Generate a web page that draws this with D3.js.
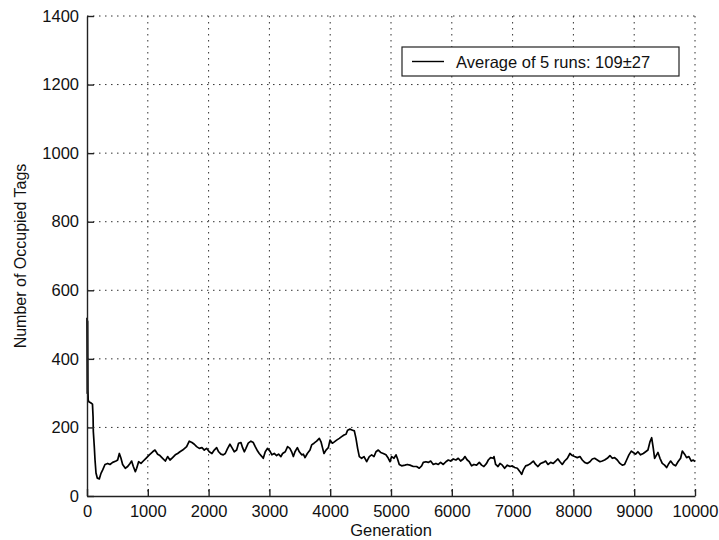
<!DOCTYPE html>
<html>
<head>
<meta charset="utf-8">
<script src="https://cdn.jsdelivr.net/npm/d3@7"></script>
<style>
    html, body { margin: 0; padding: 0; background: #fff; }
    .container { width: 719px; height: 540px; }
    text { font-family: "Liberation Sans", Arial, sans-serif; fill: #111; }
</style>
</head>
<body>
<div class="container"></div>
<script>
// values
const generations = [
    0, 5, 10, 15, 20, 30, 60, 90, 100, 104, 120, 132, 148, 170, 203, 230, 258, 296, 340, 378,
    422, 477, 504, 532, 559, 586, 630, 669, 707, 734, 762, 795, 817, 849, 888, 926, 970, 1025, 1080, 1118,
    1162, 1200, 1244, 1288, 1326, 1365, 1408, 1452, 1491, 1529, 1573, 1606, 1639, 1682, 1726, 1765, 1803, 1847, 1891, 1929,
    1967, 2011, 2055, 2093, 2132, 2165, 2203, 2241, 2274, 2313, 2351, 2384, 2422, 2461, 2493, 2532, 2559, 2587, 2614, 2652,
    2696, 2735, 2767, 2806, 2833, 2877, 2899, 2932, 2970, 3009, 3041, 3080, 3118, 3151, 3189, 3217, 3261, 3299, 3337, 3366,
    3394, 3421, 3460, 3492, 3531, 3558, 3586, 3624, 3668, 3695, 3734, 3777, 3821, 3849, 3876, 3898, 3931, 3969, 3997, 4035,
    4068, 4106, 4150, 4188, 4227, 4260, 4287, 4325, 4369, 4397, 4424, 4451, 4479, 4517, 4556, 4600, 4643, 4682, 4720, 4753,
    4791, 4830, 4873, 4917, 4956, 4983, 5010, 5049, 5082, 5104, 5136, 5175, 5230, 5268, 5312, 5367, 5421, 5465, 5504, 5531,
    5575, 5613, 5652, 5695, 5739, 5778, 5816, 5860, 5903, 5942, 5980, 6024, 6068, 6106, 6145, 6189, 6216, 6254, 6287, 6326,
    6364, 6408, 6452, 6490, 6528, 6572, 6600, 6638, 6682, 6694, 6721, 6760, 6793, 6831, 6869, 6913, 6957, 6995, 7034, 7078,
    7121, 7149, 7176, 7215, 7253, 7297, 7341, 7379, 7417, 7461, 7505, 7543, 7582, 7626, 7669, 7708, 7746, 7779, 7817, 7856,
    7900, 7943, 7982, 8020, 8064, 8108, 8146, 8185, 8228, 8272, 8311, 8349, 8393, 8437, 8475, 8513, 8557, 8601, 8640, 8678,
    8722, 8765, 8804, 8842, 8875, 8913, 8952, 8985, 9023, 9061, 9105, 9149, 9188, 9226, 9259, 9287, 9314, 9336, 9369, 9391,
    9424, 9462, 9500, 9533, 9571, 9599, 9643, 9681, 9720, 9763, 9791, 9829, 9862, 9900, 9939, 9972, 10000
];

const occupiedTags = [
    520, 300, 510, 310, 280, 275, 272, 268, 230, 188, 144, 105, 67, 52, 50, 66, 76, 92, 95, 92,
    98, 102, 105, 124, 110, 92, 81, 86, 95, 102, 86, 71, 81, 100, 95, 102, 110, 120, 129, 134,
    122, 118, 110, 102, 115, 105, 112, 120, 124, 129, 134, 139, 144, 160, 156, 151, 144, 139, 141, 134,
    139, 129, 124, 134, 141, 129, 122, 120, 124, 139, 151, 141, 129, 134, 154, 156, 141, 129, 139, 154,
    160, 156, 144, 131, 124, 115, 110, 129, 139, 131, 120, 124, 118, 122, 115, 124, 129, 144, 139, 129,
    115, 129, 141, 129, 120, 122, 112, 124, 134, 149, 154, 160, 168, 158, 139, 124, 134, 141, 163, 154,
    158, 163, 168, 173, 178, 180, 192, 195, 192, 190, 168, 139, 115, 110, 115, 100, 115, 120, 115, 129,
    134, 127, 124, 120, 110, 100, 115, 110, 120, 110, 92, 88, 90, 92, 90, 86, 86, 81, 88, 98,
    100, 98, 102, 92, 95, 92, 98, 92, 100, 105, 102, 108, 105, 110, 102, 108, 115, 105, 100, 88,
    92, 90, 98, 90, 86, 95, 105, 112, 110, 115, 92, 86, 95, 90, 81, 90, 86, 88, 83, 81,
    71, 63, 76, 88, 90, 95, 102, 92, 86, 95, 98, 102, 92, 98, 95, 102, 108, 100, 92, 102,
    110, 124, 118, 115, 112, 115, 105, 98, 95, 100, 108, 110, 105, 100, 102, 105, 110, 118, 110, 112,
    105, 95, 90, 92, 105, 120, 131, 127, 122, 129, 120, 124, 129, 134, 158, 170, 139, 110, 120, 127,
    110, 95, 90, 83, 95, 102, 92, 88, 100, 110, 131, 122, 112, 115, 102, 105, 100
];

const xTickValues = [0, 1000, 2000, 3000, 4000, 5000, 6000, 7000, 8000, 9000, 10000];
const yTickValues = [0, 200, 400, 600, 800, 1000, 1200, 1400];
const xLabel = "Generation";
const yLabel = "Number of Occupied Tags";
const legendText = "Average of 5 runs: 109\u00b127";

const render = () => {
    const width = 719;
    const height = 540;
    const margin = { top: 16, right: 24, bottom: 44, left: 87 };
    const w = width - margin.left - margin.right;
    const h = height - margin.top - margin.bottom;

    const points = generations.map((g, i) => [g, occupiedTags[i]]);

    const xScale = d3.scaleLinear().domain([0, 10000]).range([0, w]);
    const yScale = d3.scaleLinear().domain([0, 1400]).range([h, 0]);

    const svg = d3
        .select(".container")
        .append("svg")
        .attr("width", width)
        .attr("height", height);

    const g = svg.append("g")
        .attr("transform", `translate(${margin.left}, ${margin.top})`);

    // dotted grid
    g.append("g")
        .selectAll("line")
        .data(xTickValues.filter((d) => d > 0))
        .enter()
        .append("line")
        .attr("x1", (d) => xScale(d))
        .attr("x2", (d) => xScale(d))
        .attr("y1", 0)
        .attr("y2", h)
        .attr("stroke", "#333")
        .attr("stroke-width", 1)
        .attr("stroke-dasharray", "1.5,4.5");

    g.append("g")
        .selectAll("line")
        .data(yTickValues.filter((d) => d > 0))
        .enter()
        .append("line")
        .attr("x1", 0)
        .attr("x2", w)
        .attr("y1", (d) => yScale(d))
        .attr("y2", (d) => yScale(d))
        .attr("stroke", "#333")
        .attr("stroke-width", 1)
        .attr("stroke-dasharray", "1.5,4.5");

    // the curve
    const line = d3.line()
        .x((d) => xScale(d[0]))
        .y((d) => yScale(d[1]));

    g.append("path")
        .datum(points)
        .attr("d", line)
        .attr("fill", "none")
        .attr("stroke", "#000")
        .attr("stroke-width", 1.7)
        .attr("stroke-linejoin", "round");

    // axes, ticks pointing inwards like matlab
    const xAxis = d3.axisBottom(xScale)
        .tickValues(xTickValues)
        .tickSizeInner(-7)
        .tickSizeOuter(0)
        .tickPadding(9)
        .tickFormat(d3.format("d"));
    const xg = g.append("g")
        .attr("transform", `translate(0, ${h})`)
        .call(xAxis);

    const yAxis = d3.axisLeft(yScale)
        .tickValues(yTickValues)
        .tickSizeInner(-7)
        .tickSizeOuter(0)
        .tickPadding(8)
        .tickFormat(d3.format("d"));
    const yg = g.append("g").call(yAxis);

    [xg, yg].forEach((ax) => {
        ax.select(".domain").attr("stroke", "#222").attr("stroke-width", 1.4);
        ax.selectAll(".tick line").attr("stroke", "#222").attr("stroke-width", 1.4);
        ax.selectAll(".tick text")
            .attr("font-family", "Liberation Sans, Arial, sans-serif")
            .attr("font-size", 16.5)
            .attr("fill", "#111");
    });

    // axis labels
    svg.append("text")
        .attr("x", margin.left + w / 2)
        .attr("y", 536)
        .attr("text-anchor", "middle")
        .attr("font-size", 16.5)
        .text(xLabel);

    svg.append("text")
        .attr("transform", `translate(26, ${margin.top + h / 2}) rotate(-90)`)
        .attr("text-anchor", "middle")
        .attr("font-size", 16)
        .text(yLabel);

    // legend
    const legend = svg.append("g").attr("transform", "translate(402, 47)");
    legend.append("rect")
        .attr("width", 277)
        .attr("height", 29)
        .attr("fill", "#fff")
        .attr("stroke", "#222")
        .attr("stroke-width", 1.2);
    legend.append("line")
        .attr("x1", 10)
        .attr("x2", 42)
        .attr("y1", 14.5)
        .attr("y2", 14.5)
        .attr("stroke", "#000")
        .attr("stroke-width", 1.4);
    legend.append("text")
        .attr("x", 54)
        .attr("y", 20.5)
        .attr("font-size", 16.5)
        .text(legendText);
};

render();
</script>
</body>
</html>
